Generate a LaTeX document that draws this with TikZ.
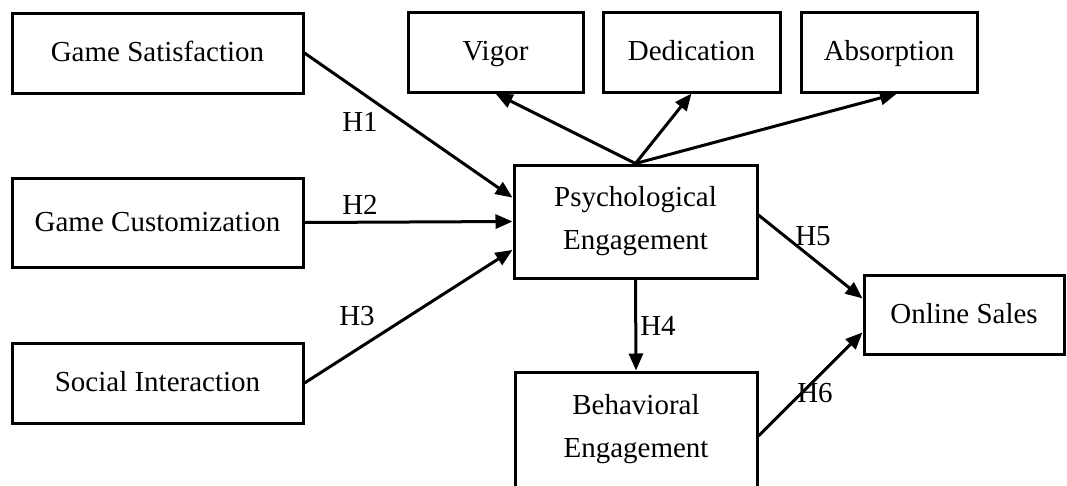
\documentclass[tikz,border=0pt]{standalone}
\usepackage{fontspec}
\setmainfont{Liberation Serif}
\usetikzlibrary{arrows.meta}
\tikzset{
  box/.style={draw, line width=3pt, inner sep=0pt, align=center, font=\fontsize{29}{43}\selectfont},
  one/.style={text height=24pt, text depth=7pt},
  arr/.style={line width=3pt, -{Triangle[length=17pt,width=14pt]}},
  lab/.style={font=\fontsize{29}{43}\selectfont, inner sep=0pt}
}
\begin{document}
\begin{tikzpicture}[x=1pt,y=-1pt]
\useasboundingbox (0,0) rectangle (1067,485);
\node[box, one, minimum width=291pt, minimum height=80pt] (gs) at (157.5,53) {Game Satisfaction};
\node[box, one, minimum width=291pt, minimum height=89pt] (gc) at (157.5,222.5) {Game Customization};
\node[box, one, minimum width=291pt, minimum height=80pt] (si) at (157.5,383) {Social Interaction};
\node[box, one, minimum width=175pt, minimum height=80pt] (vig) at (495.5,52) {Vigor};
\node[box, one, minimum width=177pt, minimum height=80pt] (ded) at (691.5,52) {Dedication};
\node[box, one, minimum width=176pt, minimum height=80pt] (abs) at (889,52) {Absorption};
\node[box, minimum width=243pt, minimum height=113pt] (psy) at (635.5,221.5) {Psychological\\Engagement};
\node[box, minimum width=242pt, minimum height=115pt] (beh) at (636,429.5) {Behavioral\\Engagement};
\node[box, one, minimum width=200pt, minimum height=79pt] (os) at (964,314.5) {Online Sales};
\draw[arr] (gs.east) -- (psy.169.5);
\draw[arr] (gc.east) -- (psy.west);
\draw[arr] (si.east) -- (psy.193.2);
\draw[arr] (psy.north) -- (vig.south);
\draw[arr] (psy.north) -- (ded.south);
\draw[arr] (psy.north) -- ([xshift=8pt]abs.south);
\draw[arr] (psy.south) -- (beh.north);
\draw[arr] (psy.3) -- (os.171.8);
\draw[arr] (beh.-3.5) -- (os.190.5);
\node[lab] (h1) at (360,122) {H1};
\node[lab] (h2) at (360,205) {H2};
\node[lab] (h3) at (357,316) {H3};
\node[lab] (h4) at (658,326) {H4};
\node[lab] (h5) at (813,236) {H5};
\node[lab] (h6) at (815,393) {H6};
\end{tikzpicture}
\end{document}
